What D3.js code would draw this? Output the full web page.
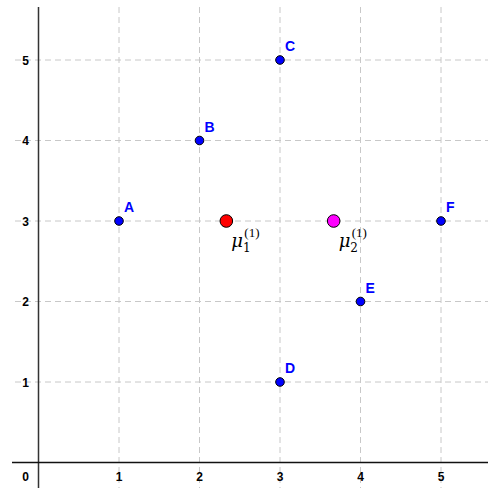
<!DOCTYPE html>
<html><head><meta charset="utf-8">
<script src="https://cdn.jsdelivr.net/npm/d3@7"></script>
<style>body{margin:0;background:#fff}svg{display:block}</style>
</head><body>
<svg id="c" width="488" height="488"></svg>
<script>
const pointNames = ["A","B","C","D","E","F"];
const pointX = [1,2,3,3,4,5];
const pointY = [3,4,5,1,2,3];
const centroidNames = ["1","2"];
const centroidX = [7/3, 11/3];
const centroidY = [3, 3];
const centroidColors = ["#ff0000","#ff00ff"];
const tickValues = [1,2,3,4,5];

const svg = d3.select("#c");
const x = d3.scaleLinear().domain([0,5]).range([38.5,441]);
const y = d3.scaleLinear().domain([0,5]).range([462.5,60]);

// grid
const g = svg.append("g");
tickValues.forEach(v=>{
  g.append("line").attr("x1",x(v)).attr("x2",x(v)).attr("y1",7).attr("y2",488)
   .attr("stroke","#c8c8c8").attr("stroke-dasharray","6,4");
  g.append("line").attr("x1",15).attr("x2",488).attr("y1",y(v)).attr("y2",y(v))
   .attr("stroke","#c8c8c8").attr("stroke-dasharray","6,4");
});
// axes
svg.append("line").attr("x1",x(0)).attr("x2",x(0)).attr("y1",7).attr("y2",488).attr("stroke","#333").attr("stroke-width",1.5);
svg.append("line").attr("x1",12).attr("x2",488).attr("y1",y(0)).attr("y2",y(0)).attr("stroke","#111").attr("stroke-width",1.5);

const tf = "'Liberation Sans',Arial,sans-serif";
// tick labels
svg.selectAll(".xt").data(tickValues).join("text")
  .attr("x",d=>x(d)).attr("y",481).attr("text-anchor","middle")
  .attr("font-family",tf).attr("font-weight","bold").attr("font-size",12).text(d=>d);
svg.selectAll(".yt").data(tickValues).join("text")
  .attr("x",29).attr("y",d=>y(d)+4.5).attr("text-anchor","end")
  .attr("font-family",tf).attr("font-weight","bold").attr("font-size",12).text(d=>d);
svg.append("text").attr("x",29).attr("y",481).attr("text-anchor","end")
  .attr("font-family",tf).attr("font-weight","bold").attr("font-size",12).text("0");

// points
const pts = pointNames.map((n,i)=>({n,x:pointX[i],y:pointY[i]}));
svg.selectAll(".p").data(pts).join("circle")
  .attr("cx",d=>x(d.x)).attr("cy",d=>y(d.y)).attr("r",4.3)
  .attr("fill","#0000ff").attr("stroke","#000").attr("stroke-width",1);
svg.selectAll(".pl").data(pts).join("text")
  .attr("x",d=>x(d.x)+5).attr("y",d=>y(d.y)-9)
  .attr("font-family",tf).attr("font-weight","bold").attr("font-size",14)
  .attr("fill","#0000ff").text(d=>d.n);

// centroids
const cs = centroidNames.map((n,i)=>({n,x:centroidX[i],y:centroidY[i],c:centroidColors[i]}));
svg.selectAll(".c").data(cs).join("circle")
  .attr("cx",d=>x(d.x)).attr("cy",d=>y(d.y)).attr("r",6.3)
  .attr("fill",d=>d.c).attr("stroke","#000").attr("stroke-width",1);
const sf = "'DejaVu Serif','Liberation Serif',serif";
cs.forEach(d=>{
  const t = svg.append("text").attr("x",x(d.x)+5).attr("y",y(d.y)+26)
    .attr("font-family",sf).attr("font-size",18);
  t.append("tspan").attr("font-style","italic").text("μ");
  t.append("tspan").attr("font-size",12).attr("dy",5).text(d.n);
  svg.append("text").attr("x",x(d.x)+18).attr("y",y(d.y)+16)
    .attr("font-family","'Liberation Serif',serif").attr("font-size",13).text("(1)");
});
</script>
</body></html>
